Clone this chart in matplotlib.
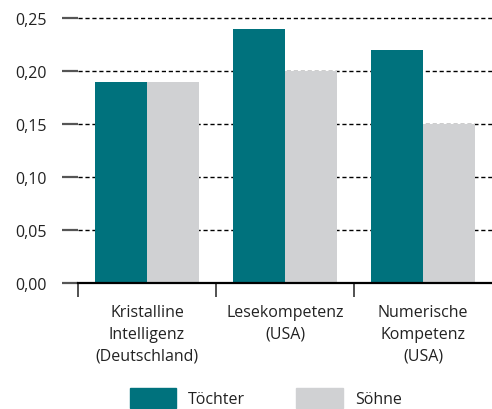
import matplotlib
matplotlib.use("Agg")
import matplotlib.pyplot as plt
import numpy as np
from matplotlib.patches import Patch

categories = ["Kristalline\nIntelligenz\n(Deutschland)", "Lesekompetenz\n(USA)", "Numerische\nKompetenz\n(USA)"]
toechter = [0.19, 0.24, 0.22]
soehne = [0.19, 0.20, 0.15]
yticks = [0.00, 0.05, 0.10, 0.15, 0.20, 0.25]
ytick_labels = ["0,00", "0,05", "0,10", "0,15", "0,20", "0,25"]
series_names = ["Töchter", "Söhne"]

TEAL = "#00727d"
GREY = "#d0d1d3"
TXT = "#222222"

plt.rcParams["font.family"] = ["Open Sans", "DejaVu Sans"]

fig = plt.figure(figsize=(4.92, 4.10), dpi=100)
ax = fig.add_axes([78 / 492, (410 - 284) / 410, 1 - 78 / 492, (284 - 19) / 410])

x = np.arange(len(categories))
w = 0.377
ax.bar(x - w / 2, toechter, w, color=TEAL, zorder=3)
ax.bar(x + w / 2, soehne, w, color=GREY, zorder=3)

ax.set_xlim(-0.5, 2.5)
ax.set_ylim(0, 0.25)

# dashed grid
for yv in yticks[1:]:
    ax.axhline(yv, color="black", lw=1, ls=(0, (3, 2)), zorder=1, clip_on=False)

for s in ["left", "right", "top"]:
    ax.spines[s].set_visible(False)
ax.spines["bottom"].set_color("black")
ax.spines["bottom"].set_linewidth(1.6)
ax.spines["bottom"].set_zorder(4)

ax.set_yticks(yticks)
ax.set_yticklabels(ytick_labels, fontsize=11.5, color=TXT)
ax.tick_params(axis="y", length=11.5, width=1.6, color="#555555", pad=11)

ax.set_xticks(x)
ax.set_xticklabels(categories, fontsize=11.5, color=TXT, linespacing=1.5)
ax.tick_params(axis="x", which="major", length=0, pad=15)
ax.set_xticks([-0.5, 0.5, 1.5], minor=True)
ax.tick_params(axis="x", which="minor", length=10, width=1.2, color="#333333")

handles = [Patch(color=TEAL), Patch(color=GREY)]
fig.legend(handles, series_names, loc="center", bbox_to_anchor=(0.54, 0.027),
           ncol=2, frameon=False, fontsize=11.5, handlelength=2.9, handleheight=1.6,
           handletextpad=0.75, columnspacing=3.2, labelcolor=TXT)

fig.savefig("out.png", dpi=100)
